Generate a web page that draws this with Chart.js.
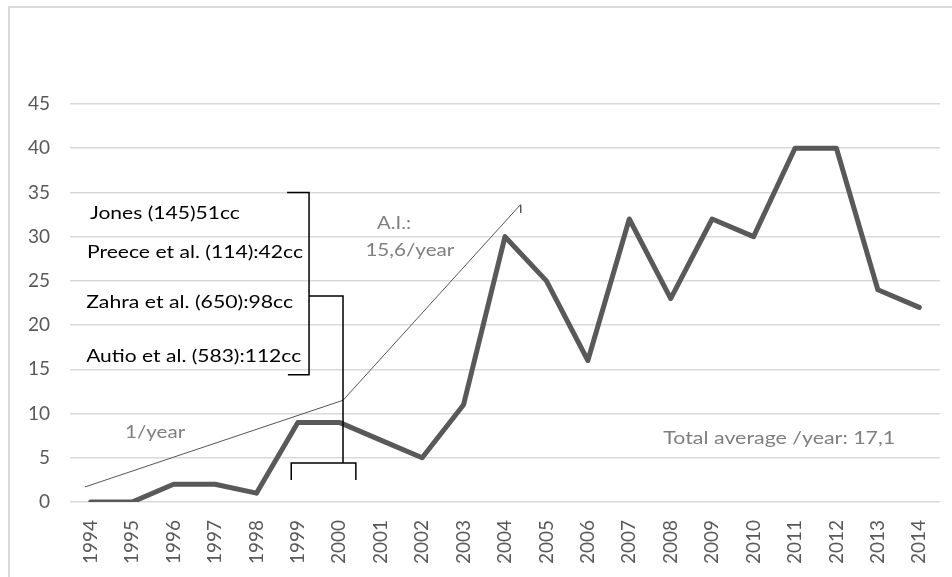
<!DOCTYPE html>
<html>
<head>
<meta charset="utf-8">
<script src="https://cdn.jsdelivr.net/npm/chart.js@4.4.1/dist/chart.umd.min.js"></script>
<style>
  html, body { margin: 0; padding: 0; background: #fff; overflow: hidden; }
  #wrap { position: relative; width: 952px; height: 577px; overflow: hidden; }
  #frame { position: absolute; left: 8px; top: 6px; width: 960px; height: 600px; border: 2px solid #dadada; box-sizing: border-box; }
  canvas { position: absolute; left: 0; top: 0; }
</style>
</head>
<body>
<div id="wrap">
  <div id="frame"></div>
  <canvas id="chart" width="952" height="577"></canvas>
</div>
<script>
// Data
const years = ['1994', '1995', '1996', '1997', '1998', '1999', '2000', '2001', '2002', '2003', '2004',
    '2005', '2006', '2007', '2008', '2009', '2010', '2011', '2012', '2013', '2014'];
const counts = [0, 0, 2, 2, 1, 9, 9, 7, 5, 11, 30, 25, 16, 32, 23, 32, 30, 40, 40, 24, 22];
const yTicks = [0, 5, 10, 15, 20, 25, 30, 35, 40, 45];

// Hand-drawn trend line (x in year index units, y in counts)
const trendX = [-0.14, 6.09, 10.37, 10.38];
const trendY = [1.7, 11.5, 33.6, 32.7];

// Brackets drawn over the chart
const bracket1X = [4.74, 5.27, 5.27, 4.76];
const bracket1Y = [35, 35, 14.4, 14.4];
const bracket2X = [5.27, 6.09, 6.09];
const bracket2Y = [23.3, 23.3, 4.4];
const bracket3X = [4.84, 4.84, 6.40, 6.40];
const bracket3Y = [2.5, 4.4, 4.4, 2.5];

// Text notes (w = text width in px in the original, which looks stretched)
const notes = [
    { text: 'Jones (145)51cc', x: -0.02, y: 32.6, w: 150, color: '#000000' },
    { text: 'Preece et al. (114):42cc', x: -0.09, y: 28.2, w: 216, color: '#000000' },
    { text: 'Zahra et al. (650):98cc', x: -0.11, y: 22.5, w: 207, color: '#000000' },
    { text: 'Autio et al. (583):112cc', x: -0.11, y: 16.5, w: 215, color: '#000000' },
    { text: 'A.I.:', x: 6.91, y: 31.5, w: 34, color: '#7f7f7f' },
    { text: '15,6/year', x: 6.63, y: 28.4, w: 89, color: '#7f7f7f' },
    { text: '1/year', x: 0.83, y: 7.8, w: 60, color: '#7f7f7f' },
    { text: 'Total average /year: 17,1', x: 13.82, y: 7.2, w: 232, color: '#7f7f7f' }
];

function toPoints(xs, ys) {
    return xs.map(function(x, i) { return { x: x, y: ys[i] }; });
}

const FONT = 'Lato, "Open Sans", sans-serif';

const notesPlugin = {
    id: 'notes',
    afterDatasetsDraw: function(chart) {
        const ctx = chart.ctx;
        const xs = chart.scales.x2;
        const ys = chart.scales.y;
        ctx.save();
        ctx.font = '17px ' + FONT;
        ctx.textAlign = 'left';
        ctx.textBaseline = 'middle';
        notes.forEach(function(n) {
            const px = xs.getPixelForValue(n.x);
            const py = ys.getPixelForValue(n.y);
            const sx = n.w / ctx.measureText(n.text).width;
            ctx.save();
            ctx.translate(px, py);
            ctx.scale(sx, 1);
            ctx.fillStyle = n.color;
            ctx.fillText(n.text, 0, 0);
            ctx.restore();
        });
        ctx.restore();
    }
};

const bracketStyle = {
    type: 'line',
    xAxisID: 'x2',
    borderColor: '#000000',
    borderWidth: 1.5,
    pointRadius: 0,
    fill: false,
    tension: 0,
    order: 0
};

new Chart(document.getElementById('chart'), {
    type: 'line',
    data: {
        labels: years,
        datasets: [
            Object.assign({ label: 'b1', data: toPoints(bracket1X, bracket1Y) }, bracketStyle),
            Object.assign({ label: 'b2', data: toPoints(bracket2X, bracket2Y) }, bracketStyle),
            Object.assign({ label: 'b3', data: toPoints(bracket3X, bracket3Y) }, bracketStyle),
            {
                label: 'trend',
                xAxisID: 'x2',
                data: toPoints(trendX, trendY),
                borderColor: '#555555',
                borderWidth: 1,
                pointRadius: 0,
                tension: 0,
                order: 1
            },
            {
                label: 'Publications',
                xAxisID: 'x',
                data: counts,
                borderColor: '#595959',
                borderWidth: 5,
                borderJoinStyle: 'round',
                borderCapStyle: 'round',
                pointRadius: 0,
                tension: 0,
                order: 2
            }
        ]
    },
    options: {
        responsive: false,
        devicePixelRatio: 1,
        animation: false,
        layout: { padding: { top: 104, right: 12, left: 0, bottom: 0 } },
        plugins: {
            legend: { display: false },
            tooltip: { enabled: false }
        },
        scales: {
            x: {
                type: 'category',
                offset: true,
                grid: { display: false, drawTicks: false },
                border: { display: false },
                ticks: {
                    autoSkip: false,
                    minRotation: 90,
                    maxRotation: 90,
                    padding: 18,
                    color: '#595959',
                    font: { family: FONT, size: 19 }
                },
                afterFit: function(s) {
                    s.height = 75;
                    s.paddingLeft = 0;
                    s.paddingRight = 0;
                }
            },
            x2: {
                type: 'linear',
                display: false,
                min: -0.5,
                max: 20.5
            },
            y: {
                min: 0,
                max: 45,
                grid: { color: '#d9d9d9', lineWidth: 1.5, drawTicks: false },
                border: { display: false },
                afterBuildTicks: function(s) { s.ticks = yTicks.map(function(v) { return { value: v }; }); },
                ticks: {
                    padding: 20,
                    color: '#595959',
                    font: { family: FONT, size: 19 }
                },
                afterFit: function(s) {
                    s.width = 70;
                    s.paddingTop = 0;
                    s.paddingBottom = 0;
                }
            }
        }
    },
    plugins: [notesPlugin]
});
</script>
</body>
</html>
